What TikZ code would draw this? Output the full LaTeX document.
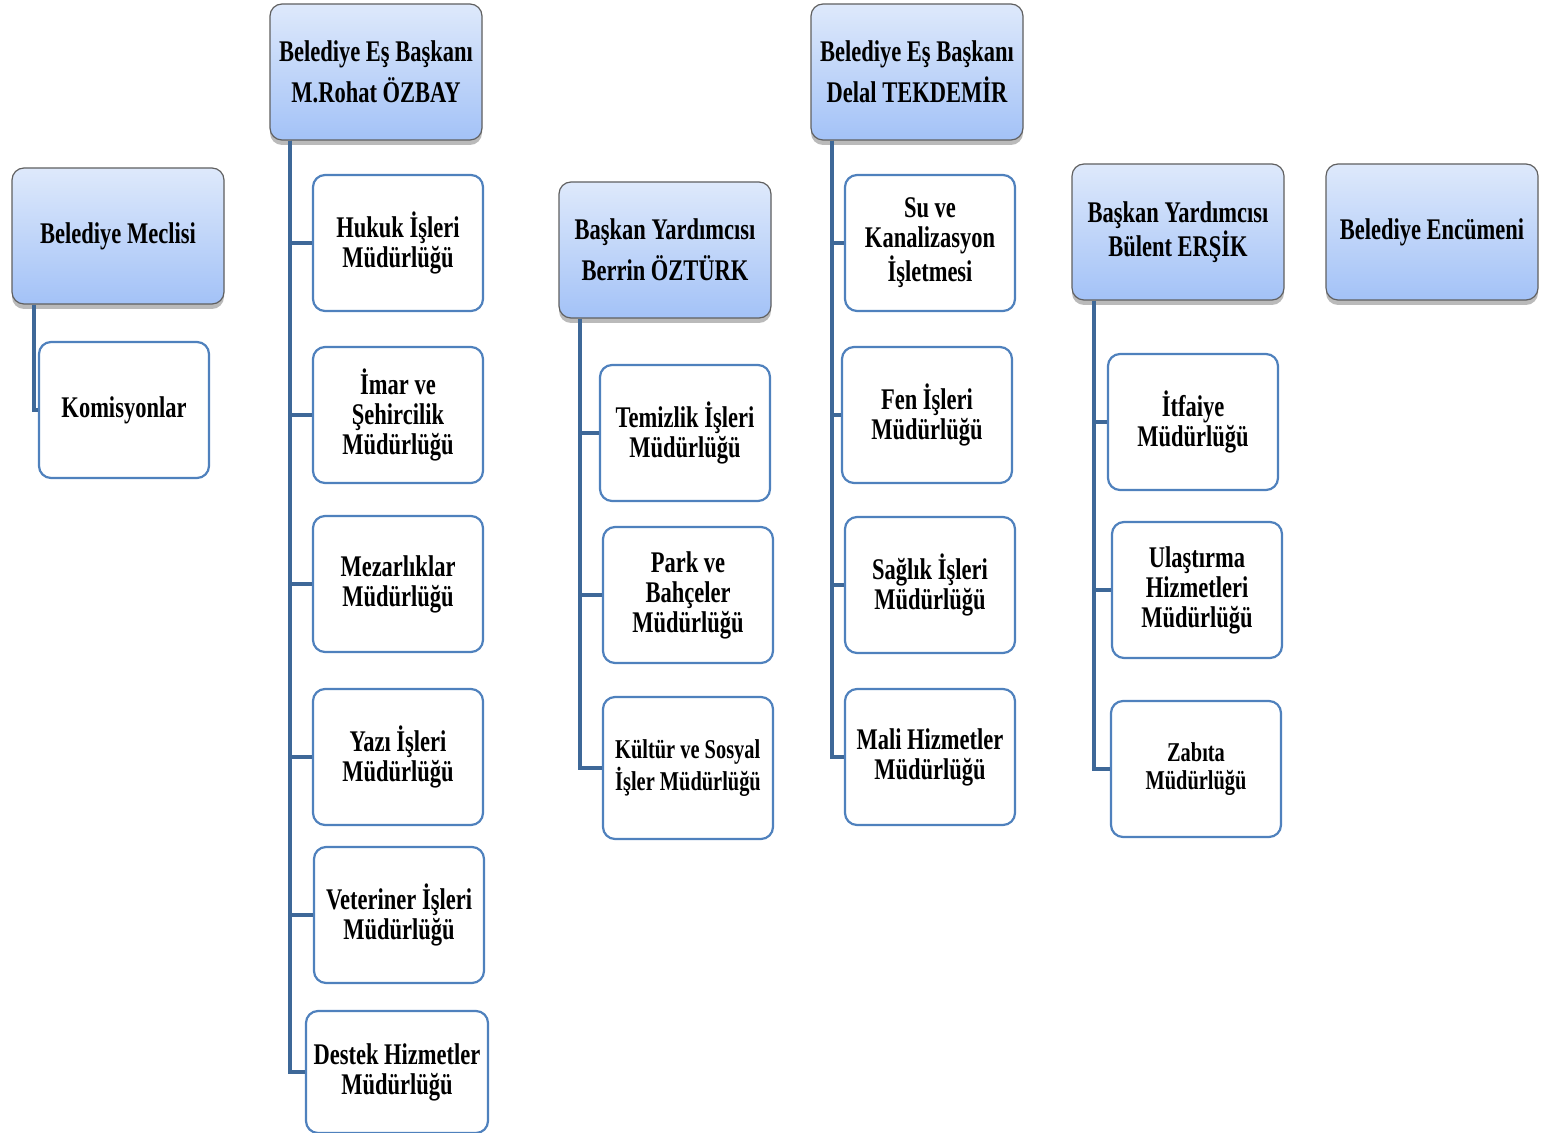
\documentclass[tikz,border=0pt]{standalone}
\usepackage{fontspec}
\newfontfamily\orgfont[FakeStretch=0.75]{Liberation Serif}
\usetikzlibrary{positioning, shadows}
\definecolor{headtop}{RGB}{222,233,251}
\definecolor{headbottom}{RGB}{163,194,247}
\definecolor{unitline}{RGB}{79,129,189}
\definecolor{linkblue}{RGB}{62,104,152}

\begin{document}
\begin{tikzpicture}[
    x=0.5pt, y=-0.5pt,
    head/.style={draw=gray!75!black, line width=0.6pt, rounded corners=6pt,
        top color=headtop, bottom color=headbottom,
        minimum width=106pt, minimum height=68pt, align=center,
        font=\orgfont\bfseries\fontsize{15}{20.5}\selectfont,
        drop shadow={shadow xshift=0pt, shadow yshift=-2.5pt, opacity=0.45, fill=black!60}},
    unit/.style={draw=unitline, line width=1.1pt, rounded corners=6pt, fill=white,
        minimum width=85pt, minimum height=68pt, align=center,
        font=\orgfont\bfseries\fontsize{15}{15}\selectfont},
    tight/.style={font=\orgfont\bfseries\fontsize{15}{15}\selectfont},
    small/.style={font=\orgfont\bfseries\fontsize{13.6}{14}\selectfont},
    link/.style={draw=linkblue, line width=2pt}
]
\useasboundingbox (0,0) rectangle (1553,1133);

\node[head] (meclis) at (118,236) {Belediye Meclisi};
\node[head] (rohat) at (376,72) {Belediye Eş Başkanı\\M.Rohat ÖZBAY};
\node[head] (berrin) at (665,250) {Başkan Yardımcısı\\Berrin ÖZTÜRK};
\node[head] (delal) at (917,72) {Belediye Eş Başkanı\\Delal TEKDEMİR};
\node[head, tight] (bulent) at (1178,232) {Başkan Yardımcısı\\Bülent ERŞİK};
\node[head] (encumen) at (1432,232) {Belediye Encümeni};

\node[unit] (komisyon) at (124,410) {Komisyonlar};

\node[unit] (hukuk) at (398,243) {Hukuk İşleri\\Müdürlüğü};
\node[unit] (imar) at (398,415) {İmar ve\\Şehircilik\\Müdürlüğü};
\node[unit] (mezar) at (398,584) {Mezarlıklar\\Müdürlüğü};
\node[unit] (yazi) at (398,757) {Yazı İşleri\\Müdürlüğü};
\node[unit] (veteriner) at (399,915) {Veteriner İşleri\\Müdürlüğü};
\node[unit, minimum width=91pt, minimum height=61pt] (destek) at (397,1072) {Destek Hizmetler\\Müdürlüğü};

\node[unit] (temizlik) at (685,433) {Temizlik İşleri\\Müdürlüğü};
\node[unit] (park) at (688,595) {Park ve\\Bahçeler\\Müdürlüğü};
\node[unit, small, align=left, minimum height=71pt] (kultur) at (688,768) {Kültür ve Sosyal\\İşler Müdürlüğü};

\node[unit] (su) at (930,243) {Su ve\\Kanalizasyon\\İşletmesi};
\node[unit] (fen) at (927,415) {Fen İşleri\\Müdürlüğü};
\node[unit] (saglik) at (930,585) {Sağlık İşleri\\Müdürlüğü};
\node[unit] (mali) at (930,757) {Mali Hizmetler\\Müdürlüğü};

\node[unit] (itfaiye) at (1193,422) {İtfaiye\\Müdürlüğü};
\node[unit] (ulastirma) at (1197,590) {Ulaştırma\\Hizmetleri\\Müdürlüğü};
\node[unit, small] (zabita) at (1196,769) {Zabıta\\Müdürlüğü};

\draw[link] ([xshift=11.5pt]meclis.south west) |- (komisyon.west);
\foreach \unitname in {hukuk,imar,mezar,yazi,veteriner,destek}
    \draw[link] ([xshift=10.5pt]rohat.south west) |- (\unitname.west);
\foreach \unitname in {temizlik,park,kultur}
    \draw[link] ([xshift=11pt]berrin.south west) |- (\unitname.west);
\foreach \unitname in {su,fen,saglik,mali}
    \draw[link] ([xshift=11pt]delal.south west) |- (\unitname.west);
\foreach \unitname in {itfaiye,ulastirma,zabita}
    \draw[link] ([xshift=11.5pt]bulent.south west) |- (\unitname.west);

\end{tikzpicture}
\end{document}
